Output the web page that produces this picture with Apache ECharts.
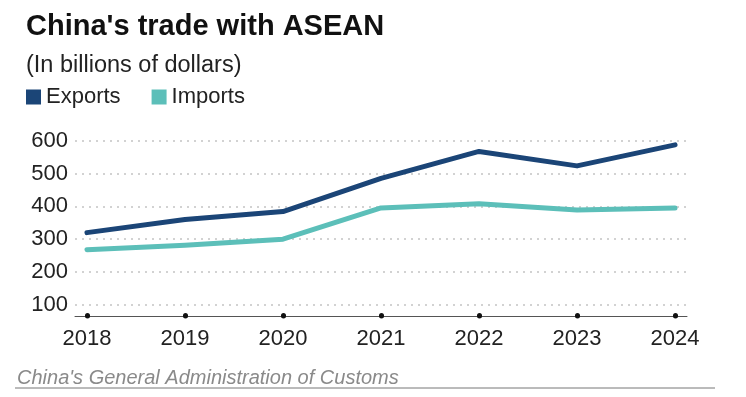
<!DOCTYPE html>
<html>
<head>
<meta charset="utf-8">
<script src="https://cdn.jsdelivr.net/npm/echarts@6/dist/echarts.min.js"></script>
<style>
	html, body { margin: 0; padding: 0; background: #fff; }
	#chart { width: 746px; height: 397px; }
</style>
</head>
<body>
<div id="chart"></div>
<script>
// 数据
var years = [2018, 2019, 2020, 2021, 2022, 2023, 2024];
var exportsData = [320, 360, 384, 485, 567, 523, 587];
var importsData = [268, 282, 300, 395, 408, 389, 395];
var yTicks = [100, 200, 300, 400, 500, 600];

var FONT = "'Liberation Sans', Arial, sans-serif";

function pairs(values) {
	return years.map(function(y, i) {
		return [y, values[i]];
	});
}

var chart = echarts.init(document.getElementById("chart"));
var option = {
	animation: false,
	backgroundColor: "#fff",
	title: [{
		text: "China's trade with ASEAN",
		left: 26,
		top: 12,
		padding: 0,
		textStyle: { fontFamily: FONT, fontSize: 29, fontWeight: "bold", color: "#111" }
	}, {
		text: "(In billions of dollars)",
		left: 26,
		top: 54,
		padding: 0,
		textStyle: { fontFamily: FONT, fontSize: 23.5, fontWeight: "normal", color: "#222" }
	}, {
		text: "China's General Administration of Customs",
		left: 17,
		top: 368,
		padding: 0,
		textStyle: { fontFamily: FONT, fontSize: 20, fontWeight: "normal", fontStyle: "italic", color: "#8a8a8a" }
	}],
	legend: {
		left: 26,
		top: 86,
		padding: 0,
		icon: "rect",
		itemWidth: 15,
		itemHeight: 15,
		itemGap: 31,
		textStyle: { fontFamily: FONT, fontSize: 22, color: "#222" },
		data: ["Exports", "Imports"]
	},
	grid: {
		left: 75,
		right: 59,
		top: 134,
		bottom: 81
	},
	xAxis: {
		type: "value",
		min: 2017.878,
		max: 2024.122,
		axisLine: { show: true, lineStyle: { color: "#555", width: 1 } },
		axisTick: {
			show: true,
			customValues: years,
			inside: true,
			length: 0.5,
			lineStyle: { color: "#111", width: 5, cap: "round" }
		},
		axisLabel: {
			customValues: years,
			margin: 12,
			fontFamily: FONT,
			fontSize: 22,
			color: "#222",
			formatter: function(v) { return String(v); }
		},
		splitLine: { show: false }
	},
	yAxis: {
		type: "value",
		min: 66.5,
		max: 620,
		axisLine: { show: false },
		axisTick: { show: false, customValues: yTicks },
		axisLabel: {
			customValues: yTicks,
			margin: 7,
			fontFamily: FONT,
			fontSize: 22,
			color: "#222"
		},
		splitLine: {
			show: true,
			lineStyle: { color: "#c4c4c4", type: [2, 5], width: 1.5 }
		}
	},
	graphic: [{
		type: "line",
		shape: { x1: 15, y1: 388, x2: 715, y2: 388 },
		style: { stroke: "#777", lineWidth: 1 }
	}],
	series: [{
		name: "Exports",
		type: "line",
		data: pairs(exportsData),
		symbol: "none",
		color: "#1b4577",
		lineStyle: { width: 5, color: "#1b4577", cap: "round", join: "round" }
	}, {
		name: "Imports",
		type: "line",
		data: pairs(importsData),
		symbol: "none",
		color: "#5cbfb9",
		lineStyle: { width: 5, color: "#5cbfb9", cap: "round", join: "round" }
	}]
};
chart.setOption(option);
</script>
</body>
</html>
